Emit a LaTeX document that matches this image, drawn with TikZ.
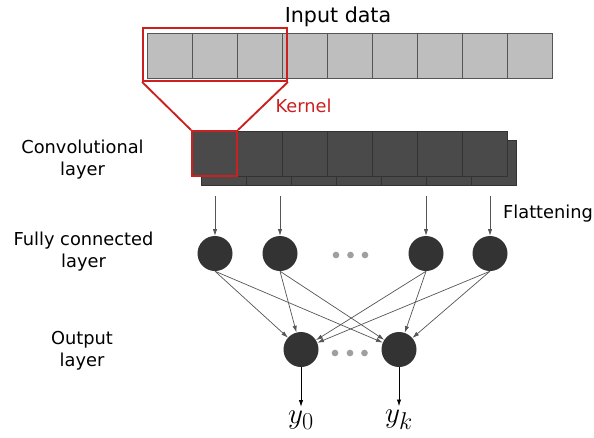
\documentclass[tikz,border=0pt]{standalone}
\usepackage{fontspec}
\setmainfont{DejaVu Sans}
\usetikzlibrary{arrows.meta,positioning}

\definecolor{cellgray}{HTML}{BEBEBE}
\definecolor{convgray}{HTML}{4A4A4A}
\definecolor{neurongray}{HTML}{333333}
\definecolor{kernelred}{HTML}{CC1F1F}
\definecolor{linegray}{HTML}{555555}

\tikzset{
    incell/.style={draw=linegray, fill=cellgray, minimum size=1.35cm, inner sep=0pt, line width=0.6pt},
    convcell/.style={draw=black!80, fill=convgray, minimum size=1.35cm, inner sep=0pt, line width=0.6pt},
    neuron/.style={circle, fill=neurongray, minimum size=1.05cm, inner sep=0pt},
    dot/.style={circle, fill=gray!75, minimum size=0.2cm, inner sep=0pt},
    layertext/.style={font=\fontsize{15.2}{18.7}\selectfont, align=center},
    conn/.style={draw=linegray, line width=0.6pt, -{Latex[length=2mm,width=1.3mm]}},
    kernelbox/.style={draw=kernelred, line width=1.6pt, inner sep=0pt},
}

\begin{document}
\begin{tikzpicture}[x=0.03cm, y=-0.03cm]
    \useasboundingbox (0,0) rectangle (594,437);

    % input row
    \node[font=\fontsize{17.6}{21}\selectfont] (intitle) at (338,17) {Input data};
    \foreach \i in {0,...,8}
        \node[incell] (in\i) at ({170+45*\i},55.5) {};

    % convolutional layer, back copy first
    \foreach \i in {0,...,6}
        \node[convcell] (cb\i) at ({223.5+45*\i},163) {};
    \foreach \i in {0,...,6}
        \node[convcell] (cv\i) at ({214.5+45*\i},153.5) {};

    % kernel window and where it lands
    \node[kernelbox, minimum width=4.32cm, minimum height=1.59cm] (kern) at (215,54.5) {};
    \node[kernelbox, minimum size=1.35cm] (kconv) at (cv0) {};
    \draw[kernelred, line width=1.6pt] (kern.south west) -- (kconv.north west);
    \draw[kernelred, line width=1.6pt] (kern.south east) -- (kconv.north east);
    \node[layertext, text=kernelred] (kname) at (303.5,106) {Kernel};

    % fully connected layer
    \node[neuron] (f1) at (215,253.5) {};
    \node[neuron] (f2) at (280,253.5) {};
    \node[neuron] (f3) at (426,253.5) {};
    \node[neuron] (f4) at (490,253.5) {};
    \node[dot] (fd1) at (336,255) {};
    \node[dot] (fd2) at (350.5,255) {};
    \node[dot] (fd3) at (365,255) {};

    % flattening arrows
    \coordinate (fl1) at (215,196);
    \coordinate (fl2) at (280,196);
    \coordinate (fl3) at (426,196);
    \coordinate (fl4) at (490,196);
    \foreach \i in {1,...,4}
        \draw[conn] (fl\i) -- (f\i);
    \node[layertext, anchor=west] (flat) at (499,214) {Flattening};

    % output layer
    \node[neuron] (o0) at (301,349.5) {};
    \node[neuron] (ok) at (399,349.5) {};
    \node[dot] (od1) at (335,353) {};
    \node[dot] (od2) at (350,353) {};
    \node[dot] (od3) at (364.5,353) {};
    \foreach \i in {1,...,4} {
        \draw[conn] (f\i.south) -- (o0);
        \draw[conn] (f\i.south) -- (ok);
    }

    \node[font=\fontsize{24.88}{30}\selectfont] (y0) at (301,420) {$y_0$};
    \node[font=\fontsize{24.88}{30}\selectfont] (yk) at (399,420) {$y_k$};
    \draw[conn, draw=black] (o0) -- (y0);
    \draw[conn, draw=black] (ok) -- (yk);

    % layer names
    \node[layertext] (convname) at (82.5,159.5) {Convolutional\\layer};
    \node[layertext] (fcname) at (83.5,251.5) {Fully connected\\layer};
    \node[layertext] (outname) at (82,350.5) {Output\\layer};
\end{tikzpicture}
\end{document}
